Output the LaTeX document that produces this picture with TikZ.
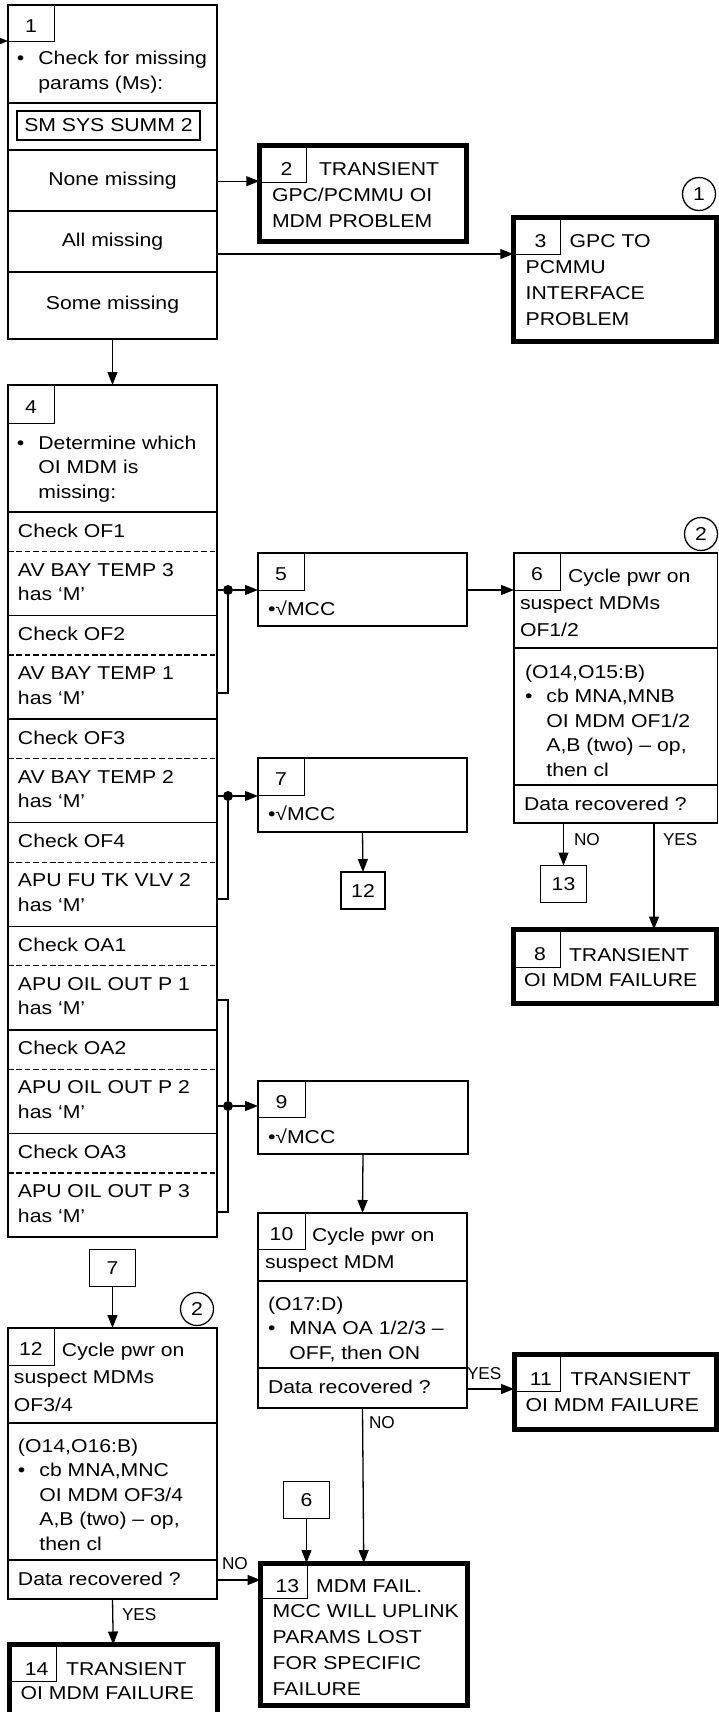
\documentclass[tikz,border=0pt]{standalone}
\usepackage{fontspec}
\setmainfont{Liberation Sans}[FakeStretch=1.14]
\newfontfamily\lblfont{Liberation Sans}
\usepackage{tikz}
\usetikzlibrary{arrows.meta,positioning,fit}
\newcommand{\setfs}[1]{\fontsize{9.3}{#1}\selectfont}
\newcommand{\ml}[1]{\begin{tabular}[t]{@{}l@{}}#1\end{tabular}}
\newcommand{\bitem}{\textbullet\hspace{7pt}}
\newcommand{\bskip}{\hphantom{\textbullet}\hspace{7pt}}

\begin{document}
\begin{tikzpicture}[x=0.5pt,y=-0.5pt,line width=0.65pt,
 every node/.style={inner sep=0pt,outer sep=0pt,font=\setfs{12.3}},
 frame/.style={draw},
 heavy/.style={draw,line width=2.5pt},
 numbox/.style={draw,line width=0.5pt,anchor=north west,minimum width=23pt,minimum height=18.5pt,text height=9.16pt,text depth=0pt},
 numheavy/.style={numbox,minimum width=23.75pt,text height=12.06pt,execute at begin node={\hspace*{3.5pt}}},
 refbox/.style={draw,minimum width=23pt,minimum height=18.5pt},
 txt/.style={anchor=base west},
 ttl/.style={anchor=base west,font=\setfs{#1}},ttl/.default=13,
 mid/.style={anchor=base},
 lbl/.style={anchor=west,font=\lblfont\fontsize{8.6}{10}\selectfont},
 dot/.style={circle,fill,minimum size=5pt},
 ring/.style={circle,draw,minimum size=16.5pt},
 arr/.style={-{Triangle[length=6.5pt,width=5pt]}},
 dashline/.style={dash pattern=on 2.8pt off 1.4pt}]
\useasboundingbox (0,0) rectangle (718,1712);
\node[frame,fit={(8,5) (217,339)}] (b1) {};
\node[numbox] (t1) at (b1.north west) {1};
\node[txt] (b1a) at (17,65) {\ml{\bitem Check for missing\\\bskip params (Ms):}};
\node[frame,minimum width=91.5pt,minimum height=14.5pt] (sss) at (108.5,125.5) {SM SYS SUMM 2};
\node[mid] (rnone) at (112.5,186) {None missing};
\node[mid] (rall) at (112.5,247) {All missing};
\node[mid] (rsome) at (112.5,309) {Some missing};
\foreach \y in {103,150,211,272} \draw (8,\y) -- (217,\y);
\node[heavy,fit={(259.25,145.25) (466.75,241.75)}] (b2) {};
\node[numheavy,minimum height=18.4pt] (t2) at (b2.north west) {2};
\node[ttl] (b2a) at (272,176) {\ml{\hspace*{23.5pt}TRANSIENT\\GPC/PCMMU OI\\MDM PROBLEM}};
\node[heavy,fit={(513.25,217.25) (716,341.75)}] (b3) {};
\node[numheavy,minimum height=18.4pt] (t3) at (b3.north west) {3};
\node[ttl=12.9] (b3a) at (525.7,248) {\ml{\hspace*{22pt}GPC TO\\PCMMU\\INTERFACE\\PROBLEM}};
\node[ring] (c1) at (699,194) {1};
\node[frame,fit={(8,385) (217,1237)}] (b4) {};
\node[numbox,minimum height=19pt] (t4) at (b4.north west) {4};
\node[txt] (b4a) at (17,449) {\ml{\bitem Determine which\\\bskip OI MDM is\\\bskip missing:}};
\foreach \i/\chk/\sig in {0/OF1/AV BAY TEMP 3,1/OF2/AV BAY TEMP 1,2/OF3/AV BAY TEMP 2,3/OF4/APU FU TK VLV 2,4/OA1/APU OIL OUT P 1,5/OA2/APU OIL OUT P 2,6/OA3/APU OIL OUT P 3}{
 \pgfmathsetmacro\ty{512+103.57*\i}
 \pgfmathsetmacro\td{\ty+39.5}
 \draw (8,\ty) -- (217,\ty);
 \draw[dashline] (8,\td) -- (217,\td);
 \node[txt] (ck\i) at (18,\ty+25) {Check \chk};
 \node[txt] (ms\i) at (18,\td+24.6) {\ml{\sig\\has ‘M’}};
}
\node[frame,fit={(258,553) (467,626)}] (b5) {};
\node[numbox] (t5) at (b5.north west) {5};
\node[txt] (mc5) at (268,615) {\textbullet√MCC};
\node[frame,fit={(514,553) (717.5,823)}] (b6) {};
\node[numbox] (t6) at (b6.north west) {6};
\node[ttl=13.7] (b6a) at (520,582) {\ml{\hspace*{24pt}Cycle pwr on\\suspect MDMs\\OF1/2}};
\node[txt] (b6b) at (525,678) {\ml{(O14,O15:B)\\\bitem cb MNA,MNB\\\bskip OI MDM OF1/2\\\bskip A,B (two) – op,\\\bskip then cl}};
\node[txt] (dr6) at (524,810) {Data recovered ?};
\foreach \y in {648,785} \draw (514,\y) -- (717.5,\y);
\node[ring] (c2a) at (701,534) {2};
\node[frame,fit={(258,758) (467,832)}] (b7) {};
\node[numbox] (t7) at (b7.north west) {7};
\node[txt] (mc7) at (268,820) {\textbullet√MCC};
\node[refbox,minimum width=22pt] (r12) at (363,890.5) {12};
\node[refbox] (r13) at (563.5,884) {13};
\node[heavy,fit={(513,929.5) (716,1003.75)}] (b8) {};
\node[numheavy,minimum width=23.5pt,minimum height=18.75pt] (t8) at (b8.north west) {8};
\node[ttl=12.5] (b8a) at (524,961.7) {\ml{\hspace*{22.5pt}TRANSIENT\\OI MDM FAILURE}};
\node[frame,fit={(258,1081) (468,1154)}] (b9) {};
\node[numbox,minimum width=23.5pt,minimum height=18pt] (t9) at (b9.north west) {9};
\node[txt] (mc9) at (268,1143) {\textbullet√MCC};
\node[frame,fit={(258,1213) (467,1408)}] (b10) {};
\node[numbox,minimum width=23.5pt,minimum height=18pt] (t10) at (b10.north west) {10};
\node[ttl=13.5] (b10a) at (265,1241) {\ml{\hspace*{23.5pt}Cycle pwr on\\suspect MDM}};
\node[txt] (b10b) at (268,1310) {\ml{(O17:D)\\\bitem MNA OA 1/2/3 –\\\bskip OFF, then ON}};
\node[txt] (dr10) at (268,1393) {Data recovered ?};
\foreach \y in {1281,1368} \draw (258,\y) -- (467,\y);
\node[heavy,fit={(514,1354.5) (716,1429.5)}] (b11) {};
\node[numheavy,minimum width=23.35pt,minimum height=18.6pt] (t11) at (b11.north west) {11};
\node[ttl] (b11a) at (525.7,1385.7) {\ml{\hspace*{22.5pt}TRANSIENT\\OI MDM FAILURE}};
\node[refbox] (r7) at (112.5,1268) {7};
\node[frame,fit={(8,1328) (217,1599)}] (b12) {};
\node[numbox] (t12) at (b12.north west) {12};
\node[ttl=13.8] (b12a) at (14,1356) {\ml{\hspace*{24pt}Cycle pwr on\\suspect MDMs\\OF3/4}};
\node[txt] (b12b) at (18,1452) {\ml{(O14,O16:B)\\\bitem cb MNA,MNC\\\bskip OI MDM OF3/4\\\bskip A,B (two) – op,\\\bskip then cl}};
\node[txt] (dr12) at (18,1585) {Data recovered ?};
\foreach \y in {1423,1560} \draw (8,\y) -- (217,\y);
\node[ring] (c2b) at (197,1309) {2};
\node[refbox] (r6) at (306.5,1500) {6};
\node[heavy,fit={(260.5,1563) (467,1705.5)}] (b13) {};
\node[numheavy,minimum width=23.4pt,minimum height=17.5pt] (t13) at (b13.north west) {13};
\node[ttl=12.9] (b13a) at (272.7,1592) {\ml{\hspace*{21.7pt}MDM FAIL.\\MCC WILL UPLINK\\PARAMS LOST\\FOR SPECIFIC\\FAILURE}};
\node[heavy,fit={(9.5,1644.5) (217,1720)}] (b14) {};
\node[numheavy,minimum width=23.6pt,minimum height=18.5pt] (t14) at (b14.north west) {14};
\node[ttl=12] (b14a) at (20.7,1675) {\ml{\hspace*{22.7pt}TRANSIENT\\OI MDM FAILURE}};
\node[dot] (j1) at (228,590) {};
\node[dot] (j2) at (228,796) {};
\node[dot] (j3) at (228,1106) {};
\coordinate (in1) at (-30,41);
\draw[arr] (in1) -- (in1 -| b1.west);
\draw[arr] (b1.east |- rnone) -- (b2.west |- rnone);
\draw[arr] (b1.east |- 0,254) -- (b3.west |- 0,254);
\draw[arr] (b1.south) -- (b4.north);
\draw (b4.east |- j1) -- (j1);
\draw (b4.east |- 0,693) -| (j1);
\draw[arr] (j1) -- (b5.west |- j1);
\draw[arr] (b5.east |- j1) -- (b6.west |- j1);
\draw (b4.east |- j2) -- (j2);
\draw (b4.east |- 0,899) -| (j2);
\draw[arr] (j2) -- (b7.west |- j2);
\draw (b4.east |- 0,1000) -| (j3);
\draw (b4.east |- j3) -- (j3);
\draw (b4.east |- 0,1212) -| (j3);
\draw[arr] (j3) -- (b9.west |- j3);
\draw[arr] (b7.south) -- (r12.north);
\draw[arr] (r13.north |- b6.south) -- (r13.north);
\draw[arr] (b6.south -| 654,0) -- (b8.north -| 654,0);
\draw[arr] (b9.south) -- (b10.north);
\draw[arr] (b10.east |- 0,1389) -- (b11.west |- 0,1389);
\draw[arr] (b10.south) -- (b13.north);
\draw[arr] (r7.south) -- (b12.north);
\draw[arr] (b12.east |- 0,1580) -- (b13.west |- 0,1580);
\draw[arr] (b12.south) -- (b14.north);
\draw[arr] (r6.south) -- (r6.south |- b13.north);
\node[lbl] (no6) at (574,839.5) {NO};
\node[lbl] (yes6) at (663,839.5) {YES};
\node[lbl] (yes10) at (467,1373.5) {YES};
\node[lbl] (no10) at (369,1423) {NO};
\node[lbl] (no12) at (222,1563.5) {NO};
\node[lbl] (yes12) at (122,1614.5) {YES};
\end{tikzpicture}
\end{document}
